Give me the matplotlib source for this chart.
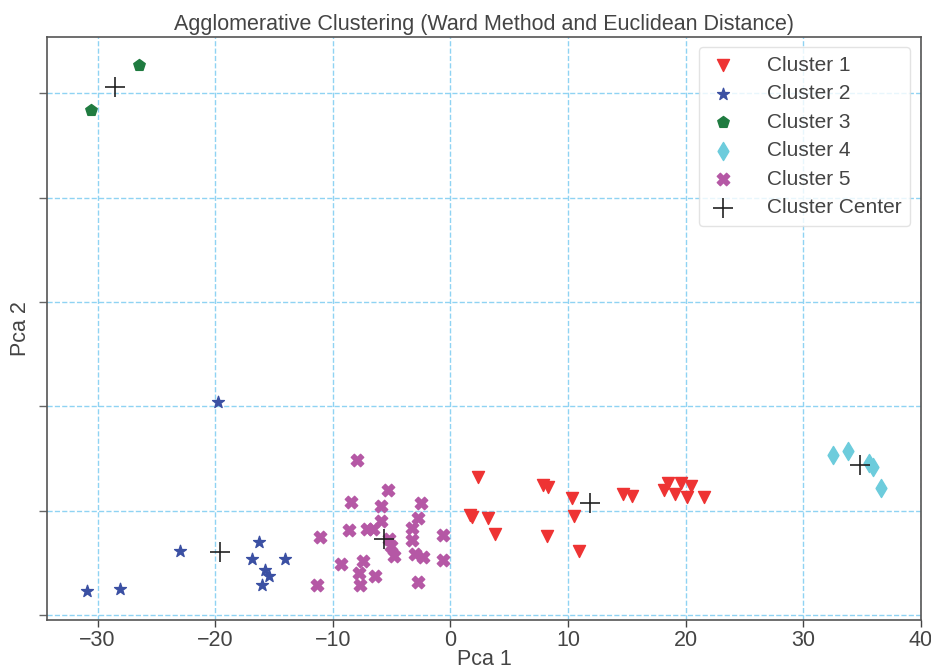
import matplotlib
matplotlib.use("Agg")
import matplotlib.pyplot as plt

plt.rcParams['font.family'] = ['Liberation Sans', 'DejaVu Sans']

# ---- data ----
c1_x = [2.35, 7.9, 8.3, 10.35, 14.66, 15.45, 18.14, 18.5, 19.64, 19.07, 20.1, 20.5, 21.57,
        1.65, 1.8, 3.2, 3.83, 10.5, 8.22, 10.97]
c1_y = [3.28, 2.49, 2.27, 1.27, 1.6, 1.44, 2.0, 2.65, 2.71, 1.63, 1.37, 2.39, 1.31,
        -0.4, -0.56, -0.7, -2.2, -0.54, -2.45, -3.8]

c2_x = [-19.8, -23.0, -30.9, -28.1, -16.3, -16.9, -15.8, -15.4, -16.0, -14.1]
c2_y = [10.4, -3.8, -7.66, -7.5, -2.97, -4.6, -5.7, -6.2, -7.1, -4.6]

c3_x = [-26.5, -30.6]
c3_y = [42.7, 38.4]

c4_x = [32.5, 33.8, 35.6, 35.97, 36.6]
c4_y = [5.36, 5.74, 4.56, 4.24, 2.17]

c5_x = [-7.97, -5.33, -8.45, -5.9, -2.47, -2.78, -5.9, -8.59, -7.12, -6.55, -3.26, -11.05,
        -5.24, -5.04, -3.29, -0.6, -4.76, -2.98, -2.30, -0.65, -9.29, -7.4, -7.74, -6.44,
        -11.37, -7.68, -2.75]
c5_y = [4.88, 1.98, 0.89, 0.48, 0.77, -0.70, -0.96, -1.82, -1.75, -1.75, -1.66, -2.52,
        -2.71, -3.35, -2.78, -2.30, -4.37, -4.15, -4.43, -4.69, -5.07, -4.85, -5.96, -6.28,
        -7.08, -7.08, -6.82]

center_x = [11.88, -19.63, -28.55, 34.86, -5.66]
center_y = [0.73, -3.97, 40.55, 4.4, -2.71]

labels = ["Cluster 1", "Cluster 2", "Cluster 3", "Cluster 4", "Cluster 5"]
x_ticks = [-30, -20, -10, 0, 10, 20, 30, 40]
y_ticks = [-10, 0, 10, 20, 30, 40]

# ---- figure ----
fig = plt.figure(figsize=(9.31, 6.69), dpi=100)
ax = fig.add_axes([0.0505, 0.0733, 0.9385, 0.8717])

text_color = '#444444'
fs = 15.5
ax.grid(True, color='#8FD3F3', linestyle='--', linewidth=1.0)
ax.set_axisbelow(True)

ax.scatter(c1_x, c1_y, marker='v', s=75, color='#EE3333', label=labels[0], zorder=3)
ax.scatter(c2_x, c2_y, marker='*', s=80, color='#3B50A3', label=labels[1], zorder=3)
ax.scatter(c3_x, c3_y, marker='p', s=75, color='#1F7B40', label=labels[2], zorder=3)
ax.scatter(c4_x, c4_y, marker='d', s=85, color='#6DCCDC', label=labels[3], zorder=3)
ax.scatter(c5_x, c5_y, marker='X', s=80, color='#B558A5', label=labels[4], zorder=3)
ax.scatter(center_x, center_y, marker='+', s=220, color='#222222', linewidths=1.2,
           label='Cluster Center', zorder=4)

ax.set_xlim(-34.3, 40.0)
ax.set_ylim(-10.45, 45.4)
ax.set_xticks(x_ticks)
ax.set_yticks(y_ticks)
ax.set_yticklabels([])
ax.tick_params(axis='x', labelsize=fs, colors=text_color, length=5, width=1, pad=2)
ax.tick_params(axis='y', colors='#666666', length=6, width=1)

for sp in ax.spines.values():
    sp.set_color('#555555')
    sp.set_linewidth(1.2)

ax.set_title('Agglomerative Clustering (Ward Method and Euclidean Distance)',
             fontsize=fs, color=text_color, pad=5)
ax.set_xlabel('Pca 1', fontsize=fs, color=text_color, labelpad=-1)
ax.set_ylabel('Pca 2', fontsize=fs, color=text_color, labelpad=2)

leg = ax.legend(loc='upper right', fontsize=15, frameon=True, borderaxespad=0.5,
                labelspacing=0.46, handlelength=1.5, handletextpad=1.4, borderpad=0.4)
leg.get_frame().set_edgecolor('#DDDDDD')
for t in leg.get_texts():
    t.set_color(text_color)

fig.savefig('out.png', dpi=100)
